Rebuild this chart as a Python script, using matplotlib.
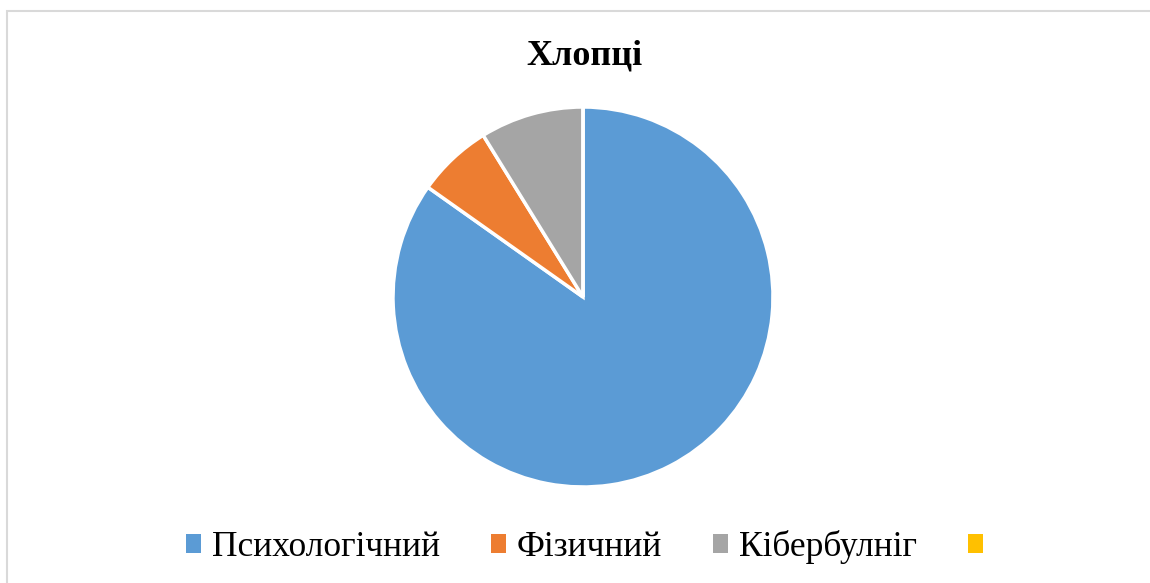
import matplotlib
matplotlib.use("Agg")
import matplotlib.pyplot as plt
from matplotlib.patches import Rectangle, Patch

title = "Хлопці"
categories = ["Психологічний", "Фізичний", "Кібербулніг", ""]
values = [84.8, 6.4, 8.8, 0.0]
colors = ["#5B9BD5", "#ED7D31", "#A5A5A5", "#FFC000"]

W, H = 1150, 583
fig = plt.figure(figsize=(W / 100, H / 100), dpi=100)
fig.patch.set_facecolor("white")

# chart border
fig.patches.append(Rectangle((7 / W, -0.05), 1.2, (H - 11) / H + 0.05,
                             transform=fig.transFigure, fill=False,
                             edgecolor="#D9D9D9", linewidth=1.5))

cx, cy, R = 583, H - 297, 190
ax = fig.add_axes([(cx - R) / W, (cy - R) / H, 2 * R / W, 2 * R / H])
ax.pie(values, colors=colors, startangle=90, counterclock=False,
       radius=1.0, wedgeprops=dict(edgecolor="white", linewidth=2.5))
ax.set_xlim(-1, 1)
ax.set_ylim(-1, 1)
ax.set_aspect("equal")
ax.axis("off")

fig.text(584 / W, 1 - 56 / H, title, ha="center", va="center",
         fontsize=26, fontweight="bold", family="Liberation Serif")

handles = [Patch(facecolor=c, edgecolor="none") for c in colors]
fig.legend(handles, categories, loc="center", bbox_to_anchor=(590 / W, 1 - 547 / H),
           ncol=4, frameon=False, prop=dict(family="Liberation Serif", size=25.5),
           handlelength=0.42, handleheight=0.42, handletextpad=0.3,
           columnspacing=1.45)

fig.savefig("out.png", dpi=100, facecolor="white")
